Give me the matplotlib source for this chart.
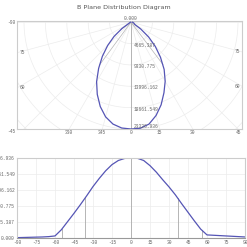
import numpy as np
import matplotlib
matplotlib.use("Agg")
import matplotlib.pyplot as plt

# intensity curve of the B plane (cd)
angles = [-90, -85, -80, -75, -70, -65, -60, -55, -50, -45, -40, -35, -30,
          -25, -20, -15, -10, -5, 0, 5, 10, 15, 20, 25, 30, 35, 40, 45, 50,
          55, 60, 65, 70, 75, 80, 85, 90]
intensity = [100, 150, 200, 250, 300, 400, 600, 2400, 4800, 7200, 9700,
             12300, 15000, 17400, 19600, 21400, 22600, 23200, 23327, 23250,
             22600, 21100, 19200, 17000, 14900, 12600, 10000, 7500, 5000,
             2600, 900, 800, 700, 600, 500, 400, 300]

y_ticks = [0.0, 4665.387, 9330.775, 13996.162, 18661.549, 23326.936]
x_ticks = [-90, -75, -60, -45, -30, -15, 0, 15, 30, 45, 60, 75, 90]

# beam angles (50 % and 10 % of peak)
half_angles = [-36.3, 37.0]
tenth_angles = [-54.5, 55.8]

# labels round the polar box
polar_label_angles = [-90, -75, -60, -45, -30, -15, 0, 15, 30, 45, 60, 75]
polar_labels = ["-90", "75", "60", "-45", "330", "345", "0", "15", "30",
                "45", "60", "75"]

line_c = "#5555b5"
grid_c = "#ececec"
txt_c = "#666666"
mono = "Liberation Mono"
fs = 3.3

fig = plt.figure(figsize=(2.47, 2.47), dpi=100)
fig.text(0.5, 0.968, "B Plane Distribution Diagram", ha="center", va="center",
         fontsize=4.6, color="#555555")

th = np.radians(np.array(angles))
I = np.array(intensity)
peak = y_ticks[-1]

# ---------------- polar plot in a rectangle ----------------
ax1 = fig.add_axes([17 / 247, 1 - 129 / 247, 225 / 247, 108 / 247])
u = peak / 107.0  # data units per pixel
ax1.set_xlim(-114 * u, 111 * u)
ax1.set_ylim(-107 * u, 1.2 * u)

t = np.linspace(0, 2 * np.pi, 400)
for k in range(1, 9):
    r = k * y_ticks[1]
    ax1.plot(r * np.sin(t), -r * np.cos(t), color=grid_c, lw=0.5, zorder=1)
for a in range(-180, 180, 15):
    ar = np.radians(a)
    ax1.plot([0, 60000 * np.sin(ar)], [0, -60000 * np.cos(ar)],
             color=grid_c, lw=0.5, zorder=1)

ax1.plot([0, 0], [0, -peak], color="#aaaaaa", lw=0.6, zorder=2)
for a in half_angles + tenth_angles:
    v = np.interp(a, angles, intensity)
    ar = np.radians(a)
    ax1.plot([0, v * np.sin(ar)], [0, -v * np.cos(ar)], color="#b5b5b5",
             lw=0.5, zorder=2)

ax1.plot(I * np.sin(th), -I * np.cos(th), color=line_c, lw=0.9, zorder=3)

for v in y_ticks[1:-1]:
    ax1.text(3 * u, -v + 1 * u, "%.3f" % v, ha="left", va="top",
             fontsize=fs, color=txt_c, family=mono, zorder=4)
ax1.text(3 * u, -peak + 0.5 * u, "%.3f" % peak, ha="left", va="bottom",
         fontsize=fs, color=txt_c, family=mono, zorder=4)
ax1.text(0, 1.2 * u, "0.000", ha="center", va="bottom", fontsize=fs,
         color=txt_c, family=mono, clip_on=False)

x0, x1 = ax1.get_xlim()
y0 = ax1.get_ylim()[0]
for a, lab in zip(polar_label_angles, polar_labels):
    ar = np.radians(a)
    if abs(a) <= 45:
        x = -y0 * np.tan(ar)
        if a == -45:
            ax1.text(x0 - 1 * u, y0, lab, ha="right", va="top", fontsize=fs,
                     color=txt_c, family=mono, clip_on=False)
        else:
            ax1.text(x, y0 - 1 * u, lab, ha="center", va="top", fontsize=fs,
                     color=txt_c, family=mono, clip_on=False)
    elif a < 0:
        y = x0 / np.tan(ar)
        if a == -90:
            ax1.text(x0 - 1 * u, 0, lab, ha="right", va="center", fontsize=fs,
                     color=txt_c, family=mono, clip_on=False)
        else:
            ax1.text(x0 + 3 * u, -y, lab, ha="left", va="center", fontsize=fs,
                     color=txt_c, family=mono)
    else:
        y = x1 / np.tan(ar)
        ax1.text(x1 - 2 * u, -y, lab, ha="right", va="center", fontsize=fs,
                 color=txt_c, family=mono)

ax1.set_xticks([])
ax1.set_yticks([])
for s in ax1.spines.values():
    s.set_color("#cccccc")
    s.set_linewidth(0.8)

# ---------------- cartesian plot ----------------
ax2 = fig.add_axes([17 / 247, 1 - 238 / 247, 228 / 247, 80 / 247])
ax2.set_xlim(-90, 90)
ax2.set_ylim(0, peak)
ax2.set_xticks(x_ticks)
ax2.set_yticks(y_ticks)
ax2.set_xticklabels([str(x) for x in x_ticks])
ax2.set_yticklabels(["%.3f" % v for v in y_ticks])
ax2.grid(True, color=grid_c, lw=0.5)
ax2.set_axisbelow(True)
ax2.tick_params(length=0, pad=1.5, labelsize=fs, labelcolor=txt_c)
for lab in ax2.get_xticklabels() + ax2.get_yticklabels():
    lab.set_family(mono)
for s in ax2.spines.values():
    s.set_color("#cccccc")
    s.set_linewidth(0.8)
ax2.spines["bottom"].set_color("#999999")

ax2.plot([0, 0], [0, peak], color="#aaaaaa", lw=0.6)
for a in half_angles + tenth_angles:
    v = np.interp(a, angles, intensity)
    ax2.plot([a, a], [0, v], color="#aaaaaa", lw=0.6)
ax2.plot(angles, intensity, color=line_c, lw=0.9)

fig.savefig("out.png", dpi=100)
